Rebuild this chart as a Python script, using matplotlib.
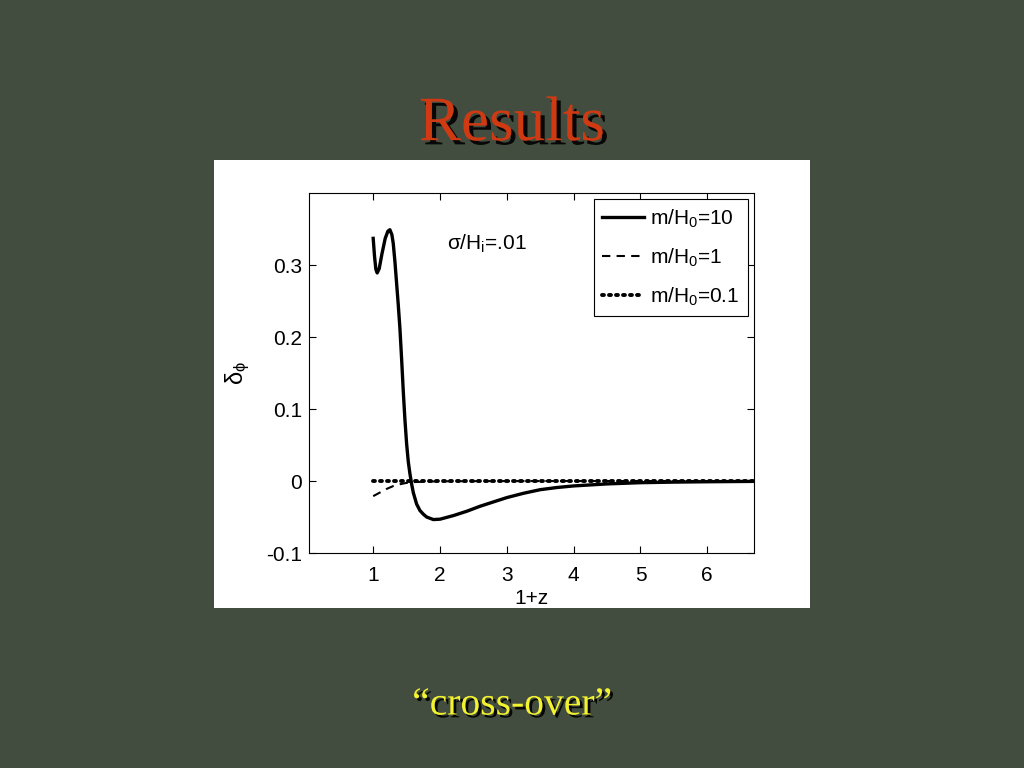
import matplotlib
matplotlib.use("Agg")
import matplotlib.pyplot as plt
import matplotlib.patheffects as pe
from matplotlib.patches import Rectangle

plt.rcParams['font.family'] = ['Liberation Sans', 'DejaVu Sans']
plt.rcParams['mathtext.default'] = 'regular'

# m/H0 = 10 (solid)
x10 = [1.0, 1.02, 1.04, 1.06, 1.09, 1.13, 1.18, 1.22, 1.25, 1.28, 1.30, 1.325, 1.35,
       1.375, 1.40, 1.425, 1.45, 1.475, 1.50, 1.525, 1.55, 1.575, 1.60, 1.65, 1.70,
       1.75, 1.80, 1.90, 2.0, 2.2, 2.4, 2.6, 2.8, 3.0, 3.25, 3.5, 3.75, 4.0, 4.5,
       5.0, 5.5, 6.0, 6.7]
y10 = [0.337, 0.312, 0.294, 0.289, 0.295, 0.315, 0.337, 0.347, 0.349, 0.342, 0.330,
       0.305, 0.275, 0.245, 0.212, 0.170, 0.125, 0.085, 0.052, 0.027, 0.010, -0.004,
       -0.016, -0.032, -0.041, -0.046, -0.050, -0.0535, -0.053, -0.048, -0.042,
       -0.035, -0.029, -0.023, -0.017, -0.012, -0.009, -0.0068, -0.004, -0.0023,
       -0.0015, -0.001, -0.0005]

# m/H0 = 1 (dashed)
x1 = [1.0, 1.1, 1.2, 1.3, 1.4, 1.5, 1.6, 1.8, 2.0, 2.5, 3.0, 4.0, 5.0, 6.0, 6.7]
y1 = [-0.021, -0.016, -0.011, -0.007, -0.0045, -0.0025, -0.0015, -0.0008, -0.0004,
      -0.0002, -0.0001, 0.0, 0.0, 0.0, 0.0]

# m/H0 = 0.1 (dotted)
x01 = [1.0, 2.0, 3.0, 4.0, 5.0, 6.0, 6.7]
y01 = [0.0, 0.0, 0.0, 0.0, 0.0, 0.0, 0.0]

labels = ['m/H$_0$=10', 'm/H$_0$=1', 'm/H$_0$=0.1']
xticks = [1, 2, 3, 4, 5, 6]
yticks = [-0.1, 0, 0.1, 0.2, 0.3]
yticklabels = ['-0.1', '0', '0.1', '0.2', '0.3']

fig = plt.figure(figsize=(10.24, 7.68), dpi=100)
fig.patch.set_facecolor('#434d3f')

# white panel behind the plot
fig.patches.append(Rectangle((0.209, 0.2083), 0.582, 0.5834, transform=fig.transFigure,
                             facecolor='white', edgecolor='none', zorder=-5))

shadow = [pe.withSimplePatchShadow(offset=(3, -3), shadow_rgbFace='black', alpha=0.9)]
fig.text(0.5, 0.837, 'Results', ha='center', va='center', fontsize=45.5,
         family='Liberation Serif', color='#d03a12', path_effects=shadow)
fig.text(0.5, 0.082, '\u201ccross-over\u201d', ha='center', va='center', fontsize=28.5,
         family='Liberation Serif', color='#f2f230',
         path_effects=[pe.withSimplePatchShadow(offset=(2, -2), shadow_rgbFace='black', alpha=0.9)])

ax = fig.add_axes([0.3018, 0.2799, 0.4346, 0.4688])
ax.set_facecolor('white')
ax.plot(x10, y10, color='black', lw=2.4, ls='-', label=labels[0])
ax.plot(x1, y1, color='black', lw=1.5, ls=(0, (4, 3)), label=labels[1])
ax.plot(x01, y01, color='black', lw=2.8, ls=(0, (0.5, 1.3)), dash_capstyle='round',
        label=labels[2])

ax.set_xlim(0.04, 6.7)
ax.set_ylim(-0.1, 0.4)
ax.set_xticks(xticks)
ax.set_yticks(yticks)
ax.set_yticklabels(yticklabels)
ax.tick_params(direction='in', length=5, top=True, right=True, labelsize=15)
ax.tick_params(axis='x', pad=9)
ax.tick_params(axis='y', pad=5)
for s in ax.spines.values():
    s.set_linewidth(0.8)

ax.set_xlabel('1+z', fontsize=15, labelpad=3)
ax.set_ylabel('$\\delta_{\\phi}$', fontsize=17, labelpad=10)

ax.text(2.11, 0.33, '$\\sigma$/H$_i$=.01', fontsize=15, va='center', ha='left')

leg = ax.legend(loc='upper right', fontsize=15, frameon=True, fancybox=False,
                edgecolor='black', framealpha=1, borderaxespad=0.3,
                handlelength=2.0, handletextpad=0.3, labelspacing=0.8,
                borderpad=0.4)
leg.get_frame().set_linewidth(0.8)

fig.savefig('out.png', dpi=100, facecolor=fig.get_facecolor())
